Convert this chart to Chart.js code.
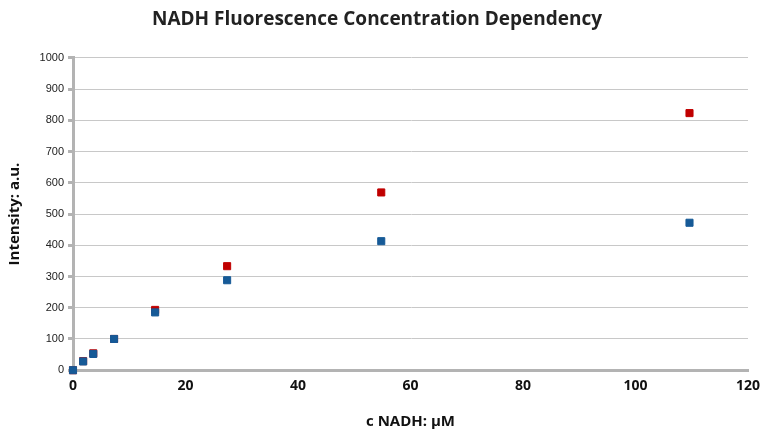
<!DOCTYPE html>
<html>
<head>
<meta charset="utf-8">
<script src="https://cdn.jsdelivr.net/npm/chart.js@4/dist/chart.umd.min.js"></script>
<style>
  html, body { margin: 0; padding: 0; background: #fff; }
  #wrap { width: 764px; height: 431px; }
</style>
</head>
<body>
<div id="wrap"><canvas id="grafica"></canvas></div>
<script>
const concentraciones = [0, 1.8, 3.6, 7.3, 14.6, 27.4, 54.8, 109.6];
const serieRoja = [0, 29, 54, 100, 193, 333, 569, 823];
const serieAzul = [0, 28, 52, 100, 185, 288, 413, 472];
const ticksX = [0, 20, 40, 60, 80, 100, 120];

function puntos(ys) {
  return concentraciones.map((x, i) => ({ x: x, y: ys[i] }));
}

window.onload = () => {
  new Chart(document.getElementById("grafica"), {
    type: "scatter",
    data: {
      datasets: [
        {
          label: "Serie 1",
          data: puntos(serieAzul),
          backgroundColor: "#165a97",
          borderColor: "#165a97",
          pointStyle: "rect",
          pointRadius: 5,
          clip: false,
        },
        {
          label: "Serie 2",
          data: puntos(serieRoja),
          backgroundColor: "#c00000",
          borderColor: "#c00000",
          pointStyle: "rect",
          pointRadius: 5,
          clip: false,
        },
      ],
    },
    options: {
      responsive: true,
      maintainAspectRatio: false,
      animation: false,
      layout: { padding: { top: 0, right: 16, bottom: 0, left: 6 } },
      plugins: {
        legend: { display: false },
        tooltip: { enabled: false },
        title: {
          display: true,
          text: "NADH Fluorescence Concentration Dependency",
          color: "#222",
          font: { family: "Open Sans", size: 19, weight: "bold" },
          padding: { top: 8, bottom: 27 },
        },
      },
      scales: {
        x: {
          type: "linear",
          min: 0,
          max: 120,
          afterBuildTicks: (s) => { s.ticks = ticksX.map((v) => ({ value: v })); },
          grid: { display: false, drawTicks: true, tickLength: 5, color: "#b3b3b3" },
          border: { color: "#b3b3b3", width: 3 },
          ticks: { color: "#111", font: { family: "Open Sans", size: 14, weight: "bold" }, padding: 2 },
          title: {
            display: true,
            text: "c NADH: µM",
            color: "#111",
            font: { family: "Open Sans", size: 15, weight: "bold" },
            padding: { top: 17, bottom: 0 },
          },
        },
        y: {
          min: 0,
          max: 1000,
          ticks: {
            stepSize: 100,
            color: "#222",
            font: { family: "Liberation Sans", size: 11 },
            padding: 4,
            callback: (v) => String(v),
          },
          grid: { color: "#c8c8c8", lineWidth: 1, tickLength: 5, tickColor: "#b3b3b3", tickWidth: 3 },
          border: { color: "#b3b3b3", width: 3 },
          title: {
            display: true,
            text: "Intensity: a.u.",
            color: "#111",
            font: { family: "Open Sans", size: 15, weight: "bold" },
            padding: { top: 0, bottom: 10 },
          },
          afterFit: (s) => { s.width = 67; },
        },
      },
    },
  });
};
</script>
</body>
</html>
